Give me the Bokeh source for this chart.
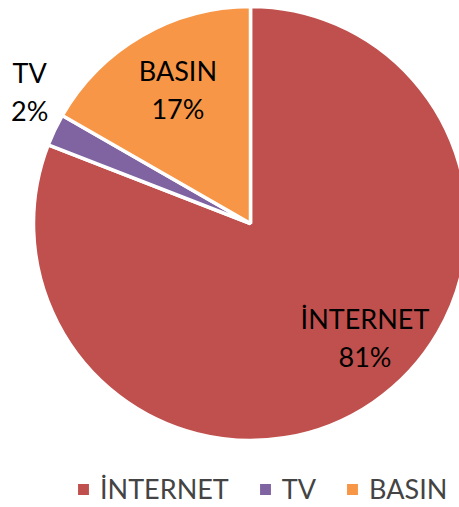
import math
from bokeh.plotting import figure
from bokeh.models import ColumnDataSource, Range1d
from bokeh.core.properties import value
from bokeh.embed import file_html
from bokeh.resources import INLINE

# ---- data ----
categories = ["İNTERNET", "TV", "BASIN"]
shares = [80.9, 2.4, 16.7]
colors = ["#C0504D", "#8064A2", "#F79646"]

# ---- geometry / style ----
R = 217
label_radius = [162, 257, 151]
label_dx = [23, 11, 3]
label_dy = [20, 21, 3]
FONT = "Lato"
FS = "27px"

total = sum(shares)
starts, ends, lx, ly, pct = [], [], [], [], []
cum = 0.0
for i, s in enumerate(shares):
    a0 = cum / total * 2 * math.pi
    cum += s
    a1 = cum / total * 2 * math.pi
    # clockwise from 12 o'clock
    starts.append(math.pi / 2 - a1)
    ends.append(math.pi / 2 - a0)
    mid = (a0 + a1) / 2
    lx.append(label_radius[i] * math.sin(mid) + label_dx[i])
    ly.append(label_radius[i] * math.cos(mid) + label_dy[i])
    pct.append(f"{round(s / total * 100)}%")

src = ColumnDataSource(dict(cat=categories, start=starts, end=ends,
                            color=colors, lx=lx, ly=ly, pct=pct))

p = figure(width=459, height=507, x_range=Range1d(-250, 209), y_range=Range1d(-284, 223),
           output_backend="svg", toolbar_location=None, min_border=0,
           x_axis_type=None, y_axis_type=None)
p.grid.visible = False
p.outline_line_color = None
p.background_fill_color = "white"
p.border_fill_color = "white"

p.wedge(x=0, y=0, radius=R, start_angle="start", end_angle="end",
        fill_color="color", line_color="white", line_width=3.5,
        source=src, legend_field="cat")

p.text(x="lx", y="ly", text="cat", source=src, text_font=value(FONT), text_font_size=FS,
       text_align="center", text_baseline="middle", y_offset=-19, text_color="black")
p.text(x="lx", y="ly", text="pct", source=src, text_font=value(FONT), text_font_size=FS,
       text_align="center", text_baseline="middle", y_offset=19, text_color="black")

lg = p.legend[0]
lg.orientation = "horizontal"
lg.location = (74, 2)
lg.border_line_color = None
lg.background_fill_alpha = 0
lg.padding = 0
lg.margin = 0
lg.glyph_width = 18
lg.glyph_height = 18
lg.label_text_font = FONT
lg.label_text_font_size = FS
lg.label_standoff = 8
lg.spacing = 27

open("out.html", "w").write(file_html(p, INLINE))
